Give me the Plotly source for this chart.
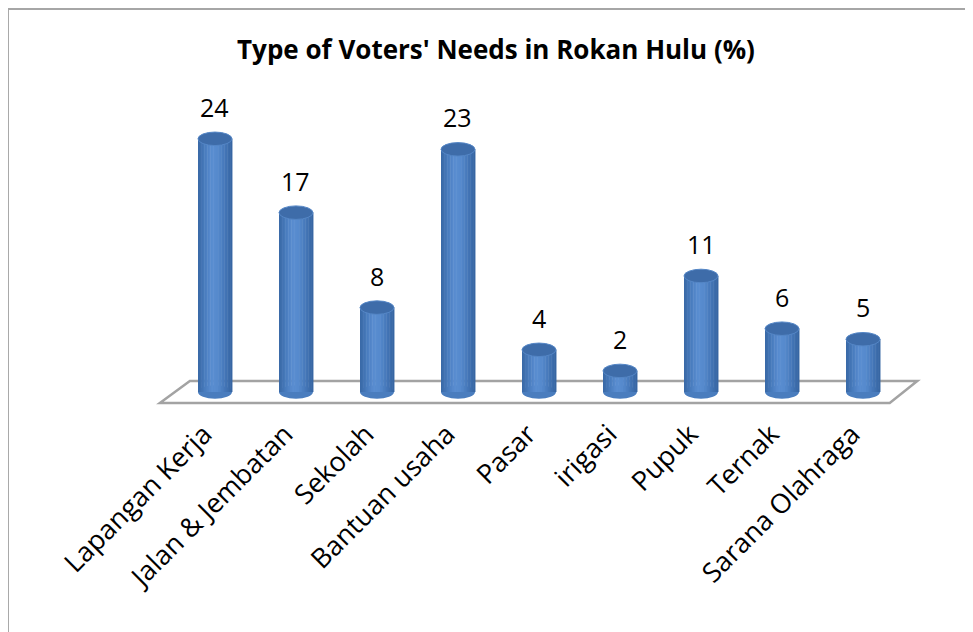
import plotly.graph_objects as go

categories = ["Lapangan Kerja", "Jalan & Jembatan", "Sekolah", "Bantuan usaha",
              "Pasar", "irigasi", "Pupuk", "Ternak", "Sarana Olahraga"]
values = [24, 17, 8, 23, 4, 2, 11, 6, 5]
title_text = "Type of Voters' Needs in Rokan Hulu (%)"

xs = list(range(len(categories)))

fig = go.Figure()


def hex2rgb(h):
    h = h.lstrip("#")
    return [int(h[i:i + 2], 16) for i in (0, 2, 4)]


# smooth cylinder shading (left -> right)
anchors = ["#3A6AA8", "#4A7DBF", "#5A8ED1", "#5589CC", "#4577B8", "#3766A3"]
n_strips = 22
strip_colors = []
for k in range(n_strips):
    t = k / (n_strips - 1) * (len(anchors) - 1)
    i = min(int(t), len(anchors) - 2)
    f = t - i
    a, b = hex2rgb(anchors[i]), hex2rgb(anchors[i + 1])
    rgb = [round(a[j] + (b[j] - a[j]) * f) for j in range(3)]
    strip_colors.append("rgb(%d,%d,%d)" % tuple(rgb))

bar_w = 0.42
sw = bar_w / n_strips
for k, c in enumerate(strip_colors):
    fig.add_trace(go.Bar(
        x=xs, y=values, width=sw * 1.3, offset=-bar_w / 2 + k * sw,
        marker=dict(color=c, line=dict(width=0)),
        hoverinfo="skip", showlegend=False))

shapes = []
# floor
shapes.append(dict(type="path", xref="x", yref="y", layer="below",
                   path="M -0.68 -1.04 L -0.31 1.04 L 8.67 1.04 L 8.33 -1.04 Z",
                   fillcolor="white", line=dict(color="#A3A3A3", width=2.5)))
ell_h = 0.64
for x, v in zip(xs, values):
    # bottom ellipse
    shapes.append(dict(type="circle", xref="x", yref="y", layer="below",
                       x0=x - bar_w / 2, x1=x + bar_w / 2, y0=-ell_h, y1=ell_h,
                       fillcolor="#4A7DBE", line=dict(width=0)))
    # top ellipse
    shapes.append(dict(type="circle", xref="x", yref="y", layer="above",
                       x0=x - bar_w / 2, x1=x + bar_w / 2, y0=v - ell_h, y1=v + ell_h,
                       fillcolor="#3E6CA9", line=dict(color="#5486C6", width=1)))
# chart border
shapes.append(dict(type="rect", xref="paper", yref="paper",
                   x0=-0.0129, x1=1.05, y0=-0.8, y1=1.145,
                   line=dict(color="#A6A6A6", width=2), fillcolor="rgba(0,0,0,0)"))

annotations = [dict(x=x, y=v, text=str(v), showarrow=False, yshift=32,
                    yanchor="middle", font=dict(family="Open Sans", size=25, color="black"))
               for x, v in zip(xs, values)]

fig.update_layout(
    width=973, height=632,
    margin=dict(l=12, r=28, t=52, b=228),
    paper_bgcolor="white", plot_bgcolor="white",
    barmode="overlay",
    title=dict(text="<b>" + title_text + "</b>", x=488 / 973, xanchor="center",
               y=1 - 42 / 632, yanchor="middle",
               font=dict(family="Open Sans", size=26, color="black")),
    shapes=shapes, annotations=annotations,
    showlegend=False,
)
fig.update_xaxes(range=[-2.407, 9.111], tickvals=xs, ticktext=categories,
                 tickangle=-45, showgrid=False, zeroline=False, showline=False,
                 ticks="", automargin=False, ticklabelshift=-11,
                 tickfont=dict(family="Open Sans", size=27, color="black"))
fig.update_yaxes(range=[-1.896, 31.47], visible=False, showgrid=False,
                 zeroline=False, automargin=False)

fig.write_html("out.html")
